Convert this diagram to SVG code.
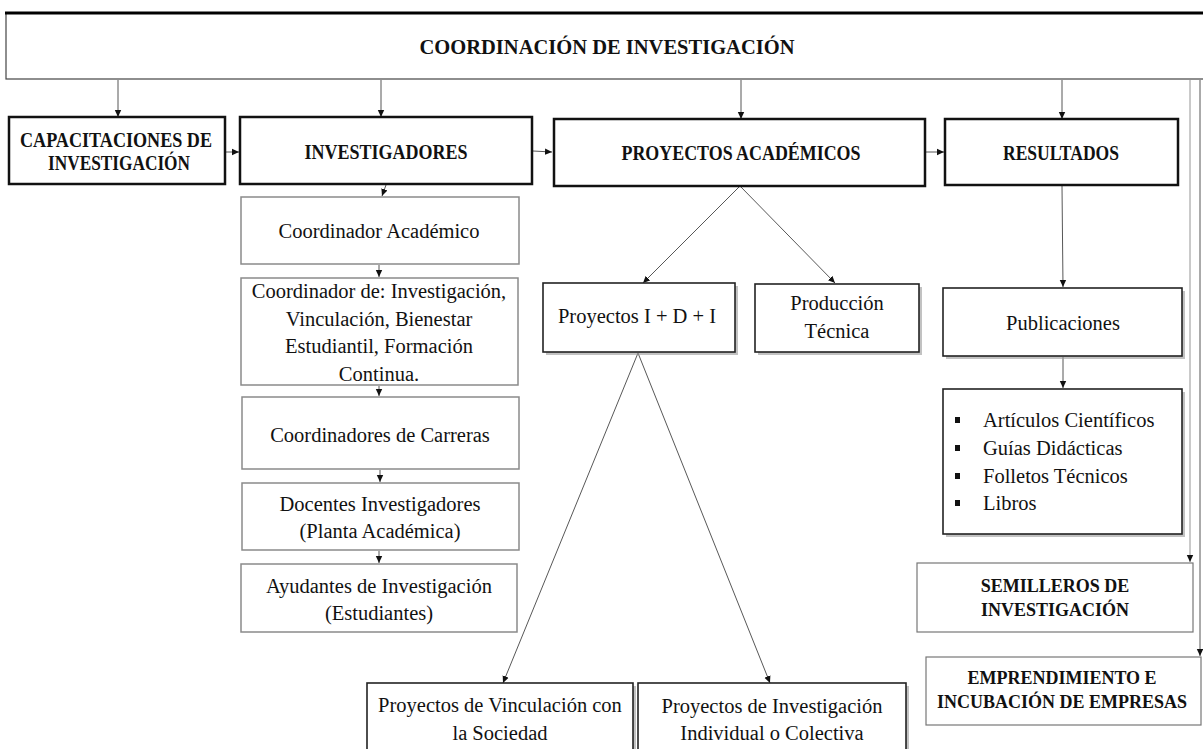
<svg xmlns="http://www.w3.org/2000/svg" width="1203" height="749" viewBox="0 0 1203 749">
<style>
text{font-family:"Liberation Serif","Times New Roman",serif;fill:#111;}
.b{font-weight:bold;font-size:19px;}
.h{font-weight:bold;font-size:20px;}
.r{font-size:20.5px;}
.thick{fill:#fff;stroke:#111;stroke-width:2.5;}
.gray{fill:#fff;stroke:#8a8a8a;stroke-width:1.5;}
.dark{fill:#fff;stroke:#222;stroke-width:1.6;}
.light{fill:#fff;stroke:#777;stroke-width:1.2;}
.sh{fill:#9a9a9a;opacity:0.6;}
.c{fill:none;stroke:#444;stroke-width:0.9;marker-end:url(#ah);}
</style>
<defs>
<marker id="ah" markerWidth="8" markerHeight="8" refX="7" refY="4" orient="auto" markerUnits="userSpaceOnUse">
<path d="M0,0.8 L7,4 L0,7.2 Z" fill="#111"/>
</marker>
</defs>
<rect width="1203" height="749" fill="#fff"/>

<g id="connectors">
<line class="c" x1="118" y1="80" x2="118" y2="117"/>
<line class="c" x1="381" y1="80" x2="381" y2="117"/>
<line class="c" x1="741" y1="80" x2="741" y2="119"/>
<line class="c" x1="1062" y1="80" x2="1062" y2="119"/>
<line class="c" x1="226" y1="152" x2="239" y2="152"/>
<line class="c" x1="533" y1="151" x2="552" y2="152"/>
<line class="c" x1="926" y1="152" x2="944" y2="152"/>
<line class="c" x1="386" y1="185" x2="382" y2="196"/>
<line class="c" x1="379" y1="265" x2="379" y2="277"/>
<line class="c" x1="379" y1="386" x2="379" y2="396"/>
<line class="c" x1="380" y1="470" x2="380" y2="482"/>
<line class="c" x1="379" y1="551" x2="379" y2="563"/>
<line class="c" x1="740" y1="186" x2="643" y2="283"/>
<line class="c" x1="740" y1="186" x2="835" y2="283"/>
<line class="c" x1="1062" y1="186" x2="1063" y2="287"/>
<line class="c" x1="1063" y1="357" x2="1063" y2="388"/>
<line class="c" x1="638" y1="353" x2="503" y2="683"/>
<line class="c" x1="638" y1="353" x2="770" y2="683"/>
<line class="c" x1="1190" y1="80" x2="1190" y2="562" style="stroke:#888"/>
<line class="c" x1="1200" y1="80" x2="1200" y2="656"/>
</g>

<g id="n-coordinacion">
<rect x="6" y="13" width="1210" height="66" fill="#fff" stroke="#444" stroke-width="1.2"/>
<line x1="5" y1="13" x2="1203" y2="13" stroke="#000" stroke-width="3"/>
<text class="b" x="607" y="54" text-anchor="middle" style="font-size:21px" textLength="375" lengthAdjust="spacingAndGlyphs">COORDINACIÓN DE INVESTIGACIÓN</text>
</g>

<g id="n-capacitaciones">
<rect class="thick" x="9" y="117" width="216" height="67"/>
<text class="h" x="116" y="147" text-anchor="middle" textLength="192" lengthAdjust="spacingAndGlyphs">CAPACITACIONES DE</text>
<text class="h" x="119" y="170" text-anchor="middle" textLength="142" lengthAdjust="spacingAndGlyphs">INVESTIGACIÓN</text>
</g>

<g id="n-investigadores">
<rect class="thick" x="240" y="117" width="292" height="67"/>
<text class="h" x="386" y="159" text-anchor="middle" textLength="163" lengthAdjust="spacingAndGlyphs">INVESTIGADORES</text>
</g>

<g id="n-proyectos">
<rect class="thick" x="554" y="119" width="371" height="67"/>
<text class="h" x="741" y="160" text-anchor="middle" textLength="239" lengthAdjust="spacingAndGlyphs">PROYECTOS ACADÉMICOS</text>
</g>

<g id="n-resultados">
<rect class="thick" x="945" y="119" width="233" height="66"/>
<text class="h" x="1061" y="160" text-anchor="middle" textLength="116" lengthAdjust="spacingAndGlyphs">RESULTADOS</text>
</g>

<g id="n-coord-academico">
<rect class="gray" x="241" y="197" width="278" height="67"/>
<text class="r" x="379" y="238" text-anchor="middle">Coordinador Académico</text>
</g>

<g id="n-coord-de">
<rect class="gray" x="241" y="278" width="277" height="107"/>
<text class="r" x="379" y="298" text-anchor="middle">Coordinador de: Investigación,</text>
<text class="r" x="379" y="326" text-anchor="middle">Vinculación, Bienestar</text>
<text class="r" x="379" y="353" text-anchor="middle">Estudiantil, Formación</text>
<text class="r" x="379" y="381" text-anchor="middle">Continua.</text>
</g>

<g id="n-coord-carreras">
<rect class="gray" x="242" y="397" width="277" height="72"/>
<text class="r" x="380" y="442" text-anchor="middle">Coordinadores de Carreras</text>
</g>

<g id="n-docentes">
<rect class="gray" x="242" y="483" width="277" height="67"/>
<text class="r" x="380" y="511" text-anchor="middle">Docentes Investigadores</text>
<text class="r" x="380" y="538" text-anchor="middle">(Planta Académica)</text>
</g>

<g id="n-ayudantes">
<rect class="gray" x="241" y="564" width="276" height="68"/>
<text class="r" x="379" y="593" text-anchor="middle">Ayudantes de Investigación</text>
<text class="r" x="379" y="620" text-anchor="middle">(Estudiantes)</text>
</g>

<g id="n-idi">
<rect class="sh" x="546" y="286" width="192" height="69"/>
<rect class="dark" x="543" y="283" width="192" height="69"/>
<text class="r" x="637" y="323" text-anchor="middle">Proyectos I + D + I</text>
</g>

<g id="n-produccion">
<rect class="sh" x="758" y="287" width="164" height="68"/>
<rect class="dark" x="755" y="284" width="164" height="68"/>
<text class="r" x="837" y="310" text-anchor="middle">Producción</text>
<text class="r" x="837" y="338" text-anchor="middle">Técnica</text>
</g>

<g id="n-publicaciones">
<rect class="sh" x="946" y="291" width="239" height="68"/>
<rect class="dark" x="943" y="288" width="239" height="68"/>
<text class="r" x="1063" y="330" text-anchor="middle">Publicaciones</text>
</g>

<g id="n-lista">
<rect class="sh" x="946" y="392" width="239" height="145"/>
<rect class="dark" x="943" y="389" width="239" height="145"/>
<g fill="#111">
<rect x="955" y="417" width="5" height="6"/>
<rect x="955" y="445" width="5" height="6"/>
<rect x="955" y="473" width="5" height="6"/>
<rect x="955" y="500" width="5" height="6"/>
</g>
<text class="r" x="983" y="427">Artículos Científicos</text>
<text class="r" x="983" y="455">Guías Didácticas</text>
<text class="r" x="983" y="483">Folletos Técnicos</text>
<text class="r" x="983" y="510">Libros</text>
</g>

<g id="n-semilleros">
<rect class="light" x="917" y="563" width="276" height="69"/>
<text class="b" x="1055" y="592" text-anchor="middle" style="font-size:18px">SEMILLEROS DE</text>
<text class="b" x="1055" y="616" text-anchor="middle" style="font-size:18px">INVESTIGACIÓN</text>
</g>

<g id="n-emprendimiento">
<rect class="light" x="926" y="657" width="275" height="68"/>
<text class="b" x="1062" y="684" text-anchor="middle" style="font-size:18px">EMPRENDIMIENTO E</text>
<text class="b" x="1062" y="708" text-anchor="middle" style="font-size:18px">INCUBACIÓN DE EMPRESAS</text>
</g>

<g id="n-vinculacion">
<rect class="sh" x="370" y="686" width="266" height="80"/>
<rect class="dark" x="367" y="683" width="266" height="80"/>
<text class="r" x="500" y="712" text-anchor="middle">Proyectos de Vinculación con</text>
<text class="r" x="500" y="740" text-anchor="middle">la Sociedad</text>
</g>

<g id="n-investigacion">
<rect class="sh" x="641" y="686" width="268" height="80"/>
<rect class="dark" x="638" y="683" width="268" height="80"/>
<text class="r" x="772" y="713" text-anchor="middle">Proyectos de Investigación</text>
<text class="r" x="772" y="740" text-anchor="middle">Individual o Colectiva</text>
</g>
</svg>
